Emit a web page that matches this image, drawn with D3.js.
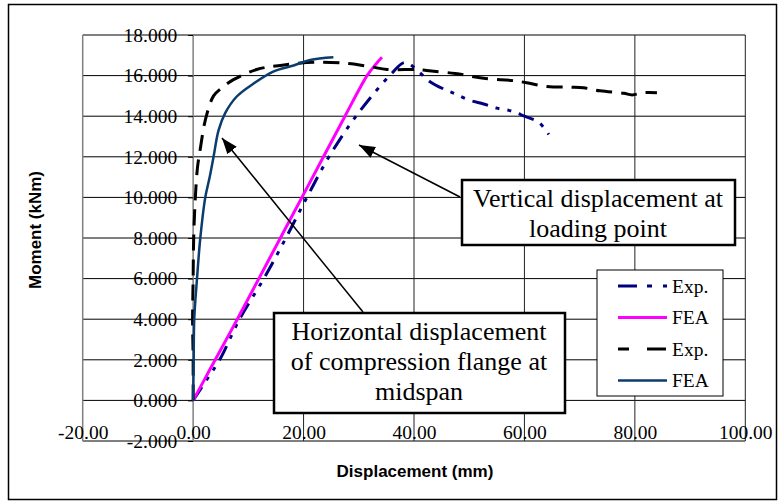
<!DOCTYPE html>
<html>
<head>
<meta charset="utf-8">
<script src="https://cdn.jsdelivr.net/npm/d3@7/dist/d3.min.js"></script>
<style>
  body { margin: 0; background: #fff; }
  svg { display: block; }
</style>
</head>
<body>
<svg id="chart" width="782" height="502"></svg>
<script>
// Tick values
const xTicks = [-20, 0, 20, 40, 60, 80, 100];
const yTicks = [-2, 0, 2, 4, 6, 8, 10, 12, 14, 16, 18];

// Vertical displacement at loading point
const vertExp = [[0, 0], [2.4, 1], [4.8, 2], [8.4, 4], [12.8, 6], [16.8, 8], [20.6, 10], [24.6, 12],
  [29.5, 14], [35.6, 16], [38.4, 16.65], [40.8, 16.2], [42.9, 15.7], [45.7, 15.3], [47.5, 15.1],
  [49.9, 14.8], [52.6, 14.6], [55, 14.4], [57.7, 14.25], [60, 14.0], [62.6, 13.7], [64.4, 13.1]];
const vertFea = [[0, 0], [2, 1], [4, 2], [8, 4], [11.9, 6], [15.8, 8], [19.7, 10], [23.6, 12],
  [27.5, 14], [31.5, 16], [33.2, 16.6], [34.2, 16.9]];

// Horizontal displacement of compression flange at midspan
const horizExp = [[0, 0], [0, 2], [-0.1, 4], [0, 6], [0.1, 8], [0.4, 10], [0.8, 11.5], [1.3, 12.4],
  [2.2, 13.8], [3.7, 15.0], [5.2, 15.4], [7.3, 15.8], [11.5, 16.3], [15.8, 16.5], [21.8, 16.66],
  [27.8, 16.6], [32.1, 16.44], [35.1, 16.3], [40.6, 16.3], [42.3, 16.25], [47.5, 16.1], [52.6, 15.87],
  [58, 15.75], [60.4, 15.65], [64.1, 15.46], [68.3, 15.43], [70.7, 15.4], [73.7, 15.25], [78, 15.13],
  [79.5, 15.05], [81.6, 15.16], [84, 15.16]];
const horizFea = [[0, 0], [0.1, 2], [0.2, 4], [0.7, 6], [1.3, 8], [2.2, 10], [3.0, 11], [3.7, 12],
  [4.6, 13.3], [5.8, 14.15], [7.9, 14.97], [10.9, 15.6], [14.5, 16.2], [18.2, 16.5], [21.2, 16.77],
  [25.4, 16.9]];

const legendLabels = ["Exp.", "FEA", "Exp.", "FEA"];

const serif = "'Liberation Serif', 'Times New Roman', serif";
const sans = "'Liberation Sans', Arial, sans-serif";

const svg = d3.select("#chart");

const x = d3.scaleLinear().domain([-20, 100]).range([82.7, 745.3]);
const y = d3.scaleLinear().domain([-2, 18]).range([441, 35]);

// Series styling
const series = [
  { data: vertExp, color: "#000080", width: 3, dash: "16,8,4,8,4,8" },
  { data: vertFea, color: "#ff00ff", width: 3, dash: null },
  { data: horizExp, color: "#000000", width: 3, dash: "16,9" },
  { data: horizFea, color: "#0b3c6e", width: 2.5, dash: null }
];

// Outer chart border
svg.append("rect")
  .attr("x", 8.5).attr("y", 4.5)
  .attr("width", 768).attr("height", 495)
  .attr("fill", "none")
  .attr("stroke", "#000")
  .attr("stroke-width", 1.5);

// Gridlines
svg.append("g").selectAll("line")
  .data(yTicks)
  .enter().append("line")
  .attr("x1", x(-20)).attr("x2", x(100))
  .attr("y1", d => y(d)).attr("y2", d => y(d))
  .attr("stroke", "#000")
  .attr("stroke-width", 1);

svg.append("g").selectAll("line")
  .data(xTicks)
  .enter().append("line")
  .attr("x1", d => x(d)).attr("x2", d => x(d))
  .attr("y1", y(18)).attr("y2", y(-2))
  .attr("stroke", d => (d === -20 || d === 0) ? "#808080" : "#222")
  .attr("stroke-width", d => (d === -20 || d === 0) ? 1.5 : 1);

// Y axis at x = 0
const yAxis = svg.append("g")
  .attr("transform", `translate(${x(0)},0)`)
  .call(d3.axisLeft(y).tickValues(yTicks).tickFormat(d => d.toFixed(3)).tickSize(5).tickPadding(11));
yAxis.select(".domain").remove();
yAxis.selectAll("line").attr("stroke", "#000");
yAxis.selectAll("text")
  .attr("fill", "#000")
  .style("font-family", serif)
  .style("font-size", "19.5px");

// X axis labels, sitting just above the bottom border
const xAxis = svg.append("g")
  .attr("transform", `translate(0,${y(-2)})`)
  .call(d3.axisBottom(x).tickValues(xTicks).tickFormat(d => d.toFixed(2)).tickSize(0));
xAxis.select(".domain").remove();
xAxis.selectAll("text")
  .attr("y", -2)
  .attr("dy", 0)
  .attr("fill", "#000")
  .style("font-family", serif)
  .style("font-size", "19.5px");

// Axis titles
svg.append("text")
  .attr("x", 415).attr("y", 477)
  .attr("text-anchor", "middle")
  .style("font-family", sans)
  .style("font-weight", "bold")
  .style("font-size", "17px")
  .text("Displacement (mm)");

svg.append("text")
  .attr("transform", "translate(41,230) rotate(-90)")
  .attr("text-anchor", "middle")
  .style("font-family", sans)
  .style("font-weight", "bold")
  .style("font-size", "17px")
  .text("Moment (kNm)");

// Curves
const line = d3.line()
  .x(d => x(d[0]))
  .y(d => y(d[1]))
  .curve(d3.curveCatmullRom.alpha(0.5));

svg.append("g").selectAll("path")
  .data(series)
  .enter().append("path")
  .attr("d", d => line(d.data))
  .attr("fill", "none")
  .attr("stroke", d => d.color)
  .attr("stroke-width", d => d.width)
  .attr("stroke-dasharray", d => d.dash)
  .attr("stroke-linejoin", "round");

// Arrow marker
svg.append("defs").append("marker")
  .attr("id", "arrow")
  .attr("viewBox", "0 -6 16 12")
  .attr("refX", 16)
  .attr("refY", 0)
  .attr("orient", "auto")
  .attr("markerUnits", "userSpaceOnUse")
  .attr("markerWidth", 16)
  .attr("markerHeight", 12)
  .append("path")
  .attr("d", "M0,-6L16,0L0,6Z")
  .style("fill", "#000");

// Annotation boxes
function noteBox(x0, y0, w, h, lines, cx, baseline) {
  svg.append("rect")
    .attr("x", x0).attr("y", y0)
    .attr("width", w).attr("height", h)
    .attr("fill", "#fff")
    .attr("stroke", "#000")
    .attr("stroke-width", 2.5);
  svg.append("g").selectAll("text")
    .data(lines)
    .enter().append("text")
    .attr("x", cx)
    .attr("y", (d, i) => baseline + i * 30)
    .attr("text-anchor", "middle")
    .style("font-family", serif)
    .style("font-size", "26px")
    .text(d => d);
}

noteBox(462, 180, 273, 65, ["Vertical displacement at", "loading point"], 598, 207);
noteBox(274, 313, 291, 100, ["Horizontal displacement", "of compression flange at", "midspan"], 419, 340);

// Arrows
const arrows = [
  [[363, 312], [222, 138]],
  [[460, 197], [359, 145]]
];
svg.append("g").selectAll("line")
  .data(arrows)
  .enter().append("line")
  .attr("x1", d => d[0][0]).attr("y1", d => d[0][1])
  .attr("x2", d => d[1][0]).attr("y2", d => d[1][1])
  .attr("stroke", "#000")
  .attr("stroke-width", 1.5)
  .attr("marker-end", "url(#arrow)");

// Legend
const legend = svg.append("g");
legend.append("rect")
  .attr("x", 597).attr("y", 270)
  .attr("width", 126).attr("height", 126)
  .attr("fill", "#fff")
  .attr("stroke", "#000")
  .attr("stroke-width", 1);

const item = legend.selectAll(".item")
  .data(series)
  .enter().append("g")
  .attr("class", "item")
  .attr("transform", (d, i) => `translate(0,${286 + i * 31.5})`);

item.append("line")
  .attr("x1", 618).attr("x2", 667)
  .attr("stroke", d => d.color)
  .attr("stroke-width", d => d.width)
  .attr("stroke-dasharray", d => d.dash ? (d.dash === "16,9" ? "11,18,19" : "19,10,5,11,4") : null);

item.append("text")
  .attr("x", 672)
  .attr("dy", "0.35em")
  .style("font-family", serif)
  .style("font-size", "19.5px")
  .text((d, i) => legendLabels[i]);
</script>
</body>
</html>
